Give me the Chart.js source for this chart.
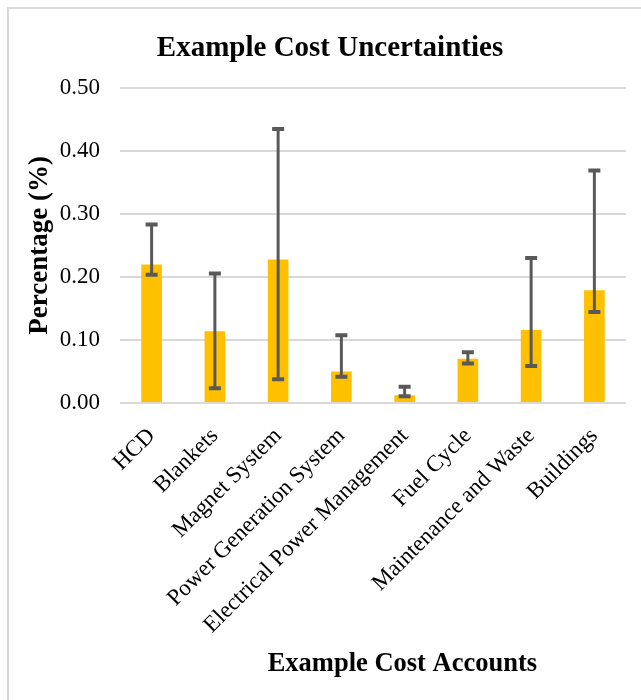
<!DOCTYPE html>
<html>
<head>
<meta charset="utf-8">
<script src="https://cdn.jsdelivr.net/npm/chart.js@4.4.1/dist/chart.umd.min.js"></script>
<style>
  html, body { margin: 0; padding: 0; background: #fff; overflow: hidden; }
  #frame {
    position: absolute; left: 7px; top: 7px; width: 700px; height: 720px;
    border: 2px solid #d9d9d9; box-sizing: border-box;
  }
  #wrap { position: absolute; left: 0; top: 0; width: 641px; height: 700px; }
</style>
</head>
<body>
<div id="frame"></div>
<div id="wrap"><canvas id="costChart" width="641" height="700"></canvas></div>
<script>
// Cost accounts and the uncertainty values
const categories = [
  "HCD", "Blankets", "Magnet System", "Power Generation System",
  "Electrical Power Management", "Fuel Cycle", "Maintenance and Waste", "Buildings"
];
const costValues = [0.219, 0.113, 0.227, 0.049, 0.011, 0.069, 0.115, 0.178];
const errHigh    = [0.283, 0.205, 0.435, 0.107, 0.025, 0.080, 0.230, 0.369];
const errLow     = [0.203, 0.023, 0.037, 0.041, 0.010, 0.062, 0.058, 0.144];
const yTicks     = [0, 0.1, 0.2, 0.3, 0.4, 0.5];

const SERIF = "'Liberation Serif', 'Times New Roman', serif";

// Draws the min/max whiskers on top of each bar
const errorBarPlugin = {
  id: "errorBars",
  afterDatasetsDraw(chart) {
    const yScale = chart.scales.y;
    const meta = chart.getDatasetMeta(0);
    const ctx = chart.ctx;
    ctx.save();
    ctx.strokeStyle = "#595959";
    meta.data.forEach((bar, i) => {
      const top = yScale.getPixelForValue(errHigh[i]);
      const bot = yScale.getPixelForValue(errLow[i]);
      const half = 6;
      ctx.lineWidth = 3;
      ctx.beginPath();
      ctx.moveTo(bar.x, top);
      ctx.lineTo(bar.x, bot);
      ctx.stroke();
      ctx.lineWidth = 4;
      ctx.beginPath();
      ctx.moveTo(bar.x - half, top);
      ctx.lineTo(bar.x + half, top);
      ctx.moveTo(bar.x - half, bot);
      ctx.lineTo(bar.x + half, bot);
      ctx.stroke();
    });
    ctx.restore();
  }
};

// Chart title and x axis title (space for them is kept by the layout padding)
const titlesPlugin = {
  id: "titles",
  afterDraw(chart) {
    const { ctx, chartArea } = chart;
    ctx.save();
    ctx.fillStyle = "#000";
    ctx.textAlign = "center";
    ctx.textBaseline = "alphabetic";
    ctx.font = "bold 29px " + SERIF;
    ctx.fillText("Example Cost Uncertainties", 330, 56);
    ctx.font = "bold 26.5px " + SERIF;
    const x = chartArea.left + (chartArea.right - chartArea.left) * 0.558;
    ctx.fillText("Example Cost Accounts", x, 671);
    ctx.restore();
  }
};

new Chart(document.getElementById("costChart"), {
  type: "bar",
  data: {
    labels: categories,
    datasets: [{
      data: costValues,
      backgroundColor: "#FFC000",
      borderWidth: 0,
      barThickness: 20
    }]
  },
  options: {
    responsive: false,
    animation: false,
    layout: { padding: { left: 24, right: 15, top: 88, bottom: 41 } },
    plugins: {
      legend: { display: false },
      tooltip: { enabled: false },
      title: { display: false }
    },
    scales: {
      x: {
        grid: { display: false, drawTicks: false },
        border: { display: false },
        ticks: {
          color: "#000",
          font: { family: SERIF, size: 23 },
          maxRotation: 45,
          minRotation: 45,
          padding: 20,
          autoSkip: false
        }
      },
      y: {
        min: 0,
        max: 0.5,
        afterBuildTicks(scale) {
          scale.ticks = yTicks.map(v => ({ value: v }));
        },
        afterFit(scale) {
          scale.width = 96;
        },
        grid: { color: "#d9d9d9", lineWidth: 2, drawTicks: false },
        border: { display: false },
        ticks: {
          color: "#000",
          font: { family: SERIF, size: 23 },
          padding: 20,
          callback: v => v.toFixed(2)
        },
        title: {
          display: true,
          text: "Percentage (%)",
          color: "#000",
          font: { family: SERIF, size: 27, weight: "bold" },
          padding: { top: 0, bottom: 2 }
        }
      }
    }
  },
  plugins: [errorBarPlugin, titlesPlugin]
});
</script>
</body>
</html>
